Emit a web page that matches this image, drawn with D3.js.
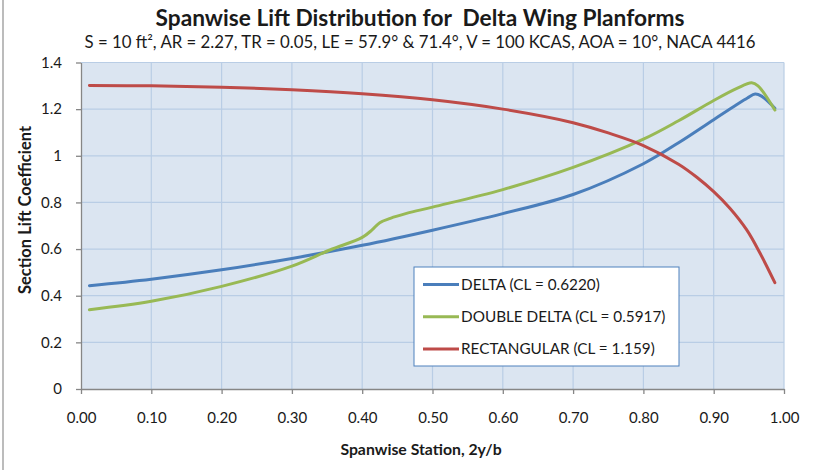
<!DOCTYPE html>
<html>
<head>
<meta charset="utf-8">
<script src="https://cdn.jsdelivr.net/npm/d3@7"></script>
<style>
  body { margin: 0; background: #fff; }
  text { font-family: Lato, "Open Sans", sans-serif; fill: #1a1a1a; }
</style>
</head>
<body>
<script>
// spanwise stations (2y/b) and section lift coefficients
const deltaX = [0.012, 0.1, 0.2, 0.3, 0.4, 0.5, 0.6, 0.7, 0.8, 0.85, 0.9, 0.933, 0.948, 0.959, 0.968, 0.987];
const deltaY = [0.443, 0.471, 0.511, 0.560, 0.616, 0.681, 0.752, 0.834, 0.966, 1.056, 1.155, 1.220, 1.248, 1.265, 1.256, 1.204];

const doubleX = [0.012, 0.1, 0.2, 0.3, 0.354, 0.4, 0.414, 0.425, 0.44, 0.463, 0.5, 0.6, 0.7, 0.8, 0.85, 0.9, 0.933, 0.954, 0.963, 0.987];
const doubleY = [0.340, 0.376, 0.440, 0.527, 0.596, 0.650, 0.682, 0.713, 0.732, 0.753, 0.780, 0.855, 0.950, 1.071, 1.150, 1.237, 1.289, 1.313, 1.300, 1.196];

const rectX = [0.012, 0.1, 0.2, 0.3, 0.4, 0.5, 0.6, 0.7, 0.75, 0.8, 0.85, 0.876, 0.9, 0.923, 0.947, 0.966, 0.987];
const rectY = [1.301, 1.300, 1.294, 1.283, 1.266, 1.240, 1.200, 1.142, 1.098, 1.044, 0.964, 0.908, 0.846, 0.775, 0.682, 0.582, 0.456];

const seriesNames = ["DELTA (CL = 0.6220)", "DOUBLE DELTA (CL = 0.5917)", "RECTANGULAR (CL = 1.159)"];
const seriesColors = ["#4a7ebb", "#98b954", "#be4b48"];

const xTicks = [0, 0.1, 0.2, 0.3, 0.4, 0.5, 0.6, 0.7, 0.8, 0.9, 1.0];
const yTicks = [0, 0.2, 0.4, 0.6, 0.8, 1, 1.2, 1.4];

// build series table from the arrays
const series = [
  { name: seriesNames[0], color: seriesColors[0], pts: d3.zip(deltaX, deltaY) },
  { name: seriesNames[1], color: seriesColors[1], pts: d3.zip(doubleX, doubleY) },
  { name: seriesNames[2], color: seriesColors[2], pts: d3.zip(rectX, rectY) }
];

const W = 825, H = 470;
const svg = d3.select("body").append("svg")
    .attr("width", W)
    .attr("height", H);

// plot area edges
const pLeft = 81, pRight = 784, pTop = 62.5, pBottom = 389;

const x = d3.scaleLinear().domain([0, 1]).range([pLeft, pRight]);
const y = d3.scaleLinear().domain([0, 1.4]).range([pBottom, pTop]);

// chart frame line on the left
svg.append("line")
    .attr("x1", 3).attr("x2", 3)
    .attr("y1", 0).attr("y2", H)
    .attr("stroke", "#a6a6a6")
    .attr("stroke-width", 1.5);

// plot background
svg.append("rect")
    .attr("x", pLeft).attr("y", pTop)
    .attr("width", pRight - pLeft).attr("height", pBottom - pTop)
    .attr("fill", "#dbe5f1");

// gridlines
svg.append("g").selectAll("line")
    .data(yTicks.slice(1))
    .enter().append("line")
    .attr("x1", pLeft).attr("x2", pRight)
    .attr("y1", d => y(d)).attr("y2", d => y(d))
    .attr("stroke", "#b9cde5")
    .attr("stroke-width", 1.2);

svg.append("g").selectAll("line")
    .data(xTicks.slice(1))
    .enter().append("line")
    .attr("x1", d => x(d)).attr("x2", d => x(d))
    .attr("y1", pTop).attr("y2", pBottom)
    .attr("stroke", "#b9cde5")
    .attr("stroke-width", 1.2);

// axes
const xAxis = svg.append("g")
    .attr("transform", "translate(0," + pBottom + ")")
    .call(d3.axisBottom(x).tickValues(xTicks).tickFormat(d3.format(".2f"))
        .tickSize(5).tickSizeOuter(0).tickPadding(18));

const yAxis = svg.append("g")
    .attr("transform", "translate(" + pLeft + ",0)")
    .call(d3.axisLeft(y).tickValues(yTicks).tickFormat(d => String(+d.toFixed(1)))
        .tickSize(5).tickSizeOuter(0).tickPadding(14));

[xAxis, yAxis].forEach(a => {
  a.select(".domain").attr("stroke", "#868686").attr("stroke-width", 1.3);
  a.selectAll(".tick line").attr("stroke", "#868686").attr("stroke-width", 1.3);
  a.selectAll(".tick text")
      .style("font-family", "Lato, sans-serif")
      .style("font-size", "15px")
      .attr("fill", "#1a1a1a");
});

// lines
const line = d3.line()
    .x(d => x(d[0]))
    .y(d => y(d[1]))
    .curve(d3.curveCatmullRom.alpha(0.5));

svg.append("g").selectAll("path")
    .data(series)
    .enter().append("path")
    .attr("d", d => line(d.pts))
    .attr("fill", "none")
    .attr("stroke", d => d.color)
    .attr("stroke-width", 3)
    .attr("stroke-linejoin", "round")
    .attr("stroke-linecap", "round");

// legend
const lg = svg.append("g").attr("transform", "translate(414,267)");
lg.append("rect")
    .attr("width", 265).attr("height", 99)
    .attr("fill", "#fff")
    .attr("stroke", "#4f81bd")
    .attr("stroke-width", 1);

const item = lg.selectAll("g.item")
    .data(series)
    .enter().append("g")
    .attr("class", "item")
    .attr("transform", (d, i) => "translate(0," + (17.5 + i * 32.2) + ")");

item.append("line")
    .attr("x1", 9).attr("x2", 45)
    .attr("stroke", d => d.color)
    .attr("stroke-width", 3);

item.append("text")
    .attr("x", 47)
    .attr("dy", "0.35em")
    .style("font-size", "15.3px")
    .text(d => d.name);

// titles
svg.append("text")
    .attr("x", 420).attr("y", 26)
    .attr("text-anchor", "middle")
    .attr("xml:space", "preserve")
    .style("font-size", "22.7px")
    .style("font-weight", "bold")
    .text("Spanwise Lift Distribution for  Delta Wing Planforms");

svg.append("text")
    .attr("x", 420).attr("y", 48)
    .attr("text-anchor", "middle")
    .style("font-size", "16.8px")
    .text("S = 10 ft², AR = 2.27, TR = 0.05, LE = 57.9° & 71.4°, V = 100 KCAS, AOA = 10°, NACA 4416");

svg.append("text")
    .attr("transform", "translate(31,210) rotate(-90)")
    .attr("text-anchor", "middle")
    .style("font-size", "16.5px")
    .style("font-weight", "bold")
    .text("Section Lift Coefficient");

svg.append("text")
    .attr("x", 421).attr("y", 455)
    .attr("text-anchor", "middle")
    .style("font-size", "15.8px")
    .style("font-weight", "bold")
    .text("Spanwise Station, 2y/b");
</script>
</body>
</html>
